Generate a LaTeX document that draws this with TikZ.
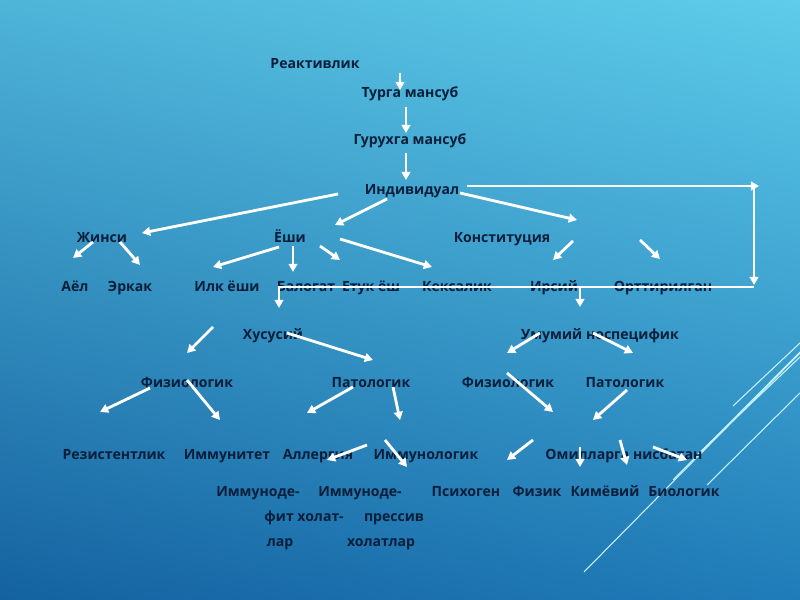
\documentclass[tikz,border=0pt]{standalone}
\usepackage{fontspec}
\setmainfont{Open Sans}
\usetikzlibrary{arrows.meta,shadings}
\definecolor{txt}{RGB}{8,30,58}
\definecolor{deco}{RGB}{200,242,252}
\definecolor{bgUL}{RGB}{78,180,216}
\definecolor{bgUR}{RGB}{94,204,234}
\definecolor{bgLL}{RGB}{20,98,160}
\definecolor{bgLR}{RGB}{32,124,184}
\begin{document}
\begin{tikzpicture}[x=0.03cm,y=-0.03cm,>={Triangle[length=7pt,width=7.5pt]}, font=\bfseries\fontsize{12}{14}\selectfont, line join=round]
	\tikzset{lbl/.style={text=txt,inner sep=0pt,anchor=base},
		arr/.style={->,white,line width=2.4pt},
		wline/.style={white,line width=2.4pt}}
	\shade[upper left=bgUL, upper right=bgUR, lower left=bgLL, lower right=bgLR]
		(0,0) rectangle (800,600);
	\useasboundingbox (0,0) rectangle (800,600);
	% decorative lines
	\begin{scope}
		\clip (0,0) rectangle (800,600);
		\draw[deco,line width=0.9pt] (584,572)--(800,353);
		\draw[deco,line width=0.9pt] (673,480)--(800,352);
		\draw[deco,line width=0.9pt] (697,455)--(800,357);
		\draw[deco,line width=0.9pt] (707,485)--(800,393);
		\draw[deco,line width=0.9pt] (733,406)--(800,343);
	\end{scope}
	% labels (placed on their baselines)
	\foreach \n/\x/\y/\t in {reakt/315/64/Реактивлик, turga/410/93/Турга мансуб, guruh/410/140/Гурухга мансуб,
		indiv/412/190/Индивидуал, zhinsi/102/238/Жинси, yoshi/290/238/Ёши, konst/502/238/Конституция,
		ayol/75/287/Аёл, erkak/130/287/Эркак, ilk/227/287/Илк ёши, balog/306/287/Балоғат,
		etuk/371/287/Етук ёш, keksa/457/287/Кексалик, irsiy/554/287/Ирсий, ortt/663/287/Орттирилган,
		xusus/273/335/Хусусий, umum/600/335/Умумий носпецифик,
		fizA/187/383/Физиологик, patA/371/383/Патологик, fizB/508/383/Физиологик, patB/625/383/Патологик,
		rez/114/455/Резистентлик, immun/227/455/Иммунитет, allerg/318/455/Аллергия,
		immlog/426/455/Иммунологик, omil/624/455/Омилларга нисбатан,
		defA/258/492/Иммуноде-, defB/304/517/фит холат-, defC/280/542/лар,
		presA/360/492/Иммуноде-, presB/394/517/прессив, presC/381/542/холатлар,
		psix/466/492/Психоген, fizik/537/492/Физик, kim/605/492/Кимёвий, bio/684/492/Биологик}{
		\node[lbl] (\n) at (\x,\y+5) {\t};
	}
	% arrows
	\foreach \a/\ax/\ay/\b/\bx/\by in {reakt/85/9/turga/-10/-3, turga/-4/14/guruh/-4/-7, guruh/-4/13/indiv/-6/-10,
		indiv/-74/4/zhinsi/40/-5, indiv/-25/9/yoshi/45/-13, indiv/48/3/konst/75/-18,
		zhinsi/-9/4/ayol/-2/-29, zhinsi/18/4/erkak/10/-22,
		yoshi/-11/9/ilk/-14/-20, yoshi/3/8/balog/-13/-15, yoshi/30/8/etuk/-31/-27, yoshi/50/1/keksa/-25/-20,
		konst/71/3/irsiy/-1/-27, konst/138/2/ortt/-3/-28,
		xusus/-60/-8/fizA/0/-30, xusus/14/-2/patA/2/-23,
		fizA/-37/5/rez/-14/-43, fizA/0/-3/immun/-7/-35, patA/-18/4/allerg/-11/-42, patA/22/4/immlog/-26/-35,
		umum/-60/-2/fizB/-1/-30, umum/-7/-2/patB/8/-30, fizB/-1/-10/omil/-71/-43, patB/2/7/omil/-31/-35,
		immlog/-59/-10/defA/69/-32, immlog/-41/-15/presA/47/-25,
		omil/-91/-15/psix/41/-32, omil/-44/-8/fizik/43/-25, omil/-4/-15/kim/22/-27, omil/29/-8/bio/3/-32}{
		\draw[arr] ([shift={(\ax,\ay-5)}]\a.base) -- ([shift={(\bx,\by-5)}]\b.base);
	}
	% long connector
	\coordinate (cTR) at (754,186);
	\coordinate (cBR) at (754,287);
	\coordinate (cBL) at (279,287);
	\draw[arr] ([shift={(55,-9)}]indiv.base) -- ([shift={(5,0)}]cTR);
	\draw[arr] (cTR) -- ([shift={(0,-2)}]cBR);
	\draw[wline] (cBR) -- (cBL);
	\draw[arr] ([shift={(0,-1)}]cBL) -- ([shift={(6,-32)}]xusus.base);
	\draw[arr] ([shift={(-20,-53)}]umum.base) -- ([shift={(-20,-33)}]umum.base);
\end{tikzpicture}
\end{document}
